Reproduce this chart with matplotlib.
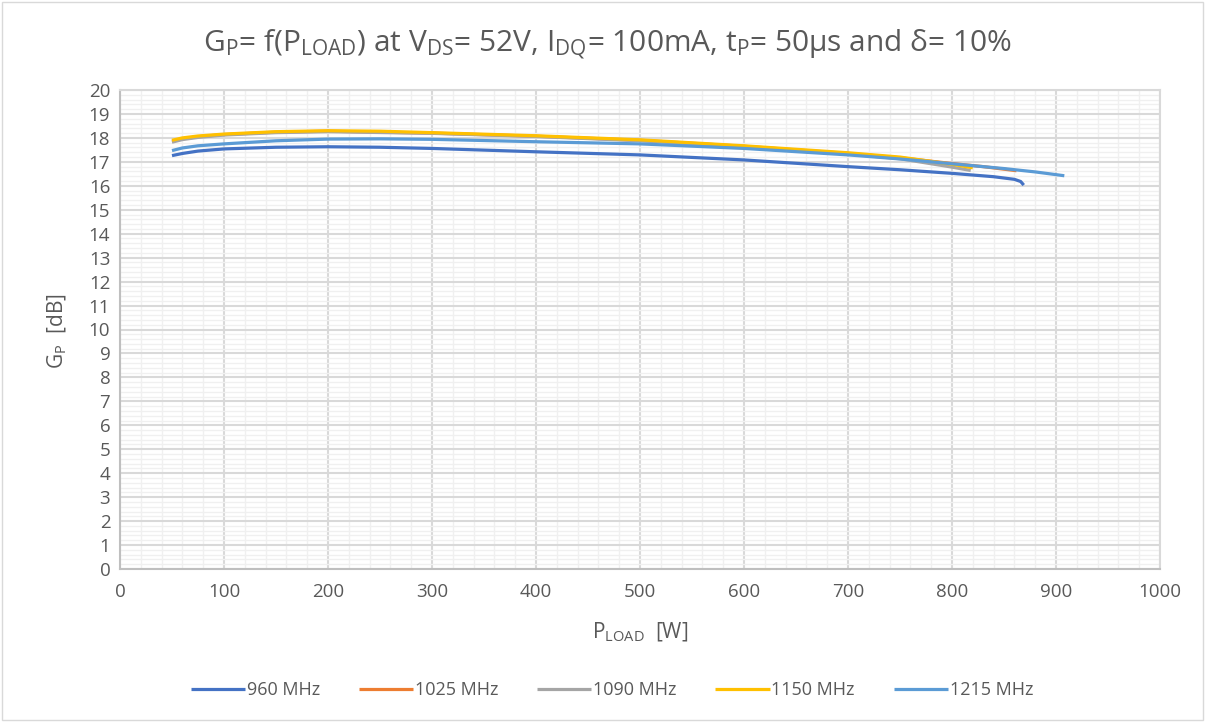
import matplotlib
matplotlib.use("Agg")
import matplotlib.pyplot as plt
from matplotlib.ticker import MultipleLocator
from matplotlib.patches import Rectangle

plt.rcParams['font.family'] = ['Open Sans', 'DejaVu Sans']
plt.rcParams['mathtext.fontset'] = 'custom'
plt.rcParams['mathtext.rm'] = 'Open Sans'
plt.rcParams['mathtext.it'] = 'Open Sans'

# ---- data ----
p_960 = [50, 60, 75, 100, 150, 200, 250, 300, 400, 500, 600, 700, 750, 800, 840, 860, 866, 869]
g_960 = [17.26, 17.35, 17.45, 17.54, 17.61, 17.63, 17.61, 17.56, 17.42, 17.29, 17.08, 16.80, 16.67, 16.52, 16.38, 16.27, 16.18, 16.03]

p_1025 = [50, 60, 75, 100, 150, 200, 300, 400, 500, 600, 700, 750, 800, 830, 862]
g_1025 = [17.86, 17.96, 18.05, 18.14, 18.24, 18.28, 18.20, 18.07, 17.90, 17.65, 17.35, 17.17, 16.93, 16.80, 16.63]

p_1090 = [50, 60, 75, 100, 150, 200, 300, 400, 500, 600, 700, 750, 800, 818]
g_1090 = [17.82, 17.93, 18.02, 18.12, 18.22, 18.26, 18.19, 18.06, 17.88, 17.63, 17.33, 17.13, 16.78, 16.64]

p_1150 = [50, 60, 75, 100, 150, 200, 250, 300, 400, 500, 600, 700, 750, 800, 820]
g_1150 = [17.90, 18.00, 18.08, 18.16, 18.26, 18.30, 18.28, 18.22, 18.09, 17.92, 17.67, 17.38, 17.20, 16.90, 16.75]

p_1215 = [50, 60, 75, 100, 150, 200, 250, 300, 400, 500, 600, 700, 750, 800, 850, 880, 908]
g_1215 = [17.47, 17.58, 17.67, 17.75, 17.88, 17.95, 17.96, 17.94, 17.84, 17.75, 17.56, 17.29, 17.12, 16.92, 16.72, 16.58, 16.42]

series_labels = ['960 MHz', '1025 MHz', '1090 MHz', '1150 MHz', '1215 MHz']
series_colors = ['#4472C4', '#ED7D31', '#A5A5A5', '#FFC000', '#5B9BD5']
series_p = [p_960, p_1025, p_1090, p_1150, p_1215]
series_g = [g_960, g_1025, g_1090, g_1150, g_1215]

x_ticks = list(range(0, 1001, 100))
y_ticks = list(range(0, 21, 1))

fig = plt.figure(figsize=(12.07, 7.22), dpi=100)
fig.patches.append(Rectangle((0.002, 0.003), 0.995, 0.994, transform=fig.transFigure,
                             fill=False, edgecolor='#D9D9D9', linewidth=1.0))
ax = fig.add_axes([120/1207, 1-569/722, (1160-120)/1207, (569-90)/722])

for p, g, c, lab in zip(series_p, series_g, series_colors, series_labels):
    ax.plot(p, g, color=c, linewidth=2.3, label=lab, solid_capstyle='butt', solid_joinstyle='round')

ax.set_xlim(0, 1000)
ax.set_ylim(0, 20)
ax.set_xticks(x_ticks)
ax.set_yticks(y_ticks)
ax.xaxis.set_minor_locator(MultipleLocator(20))
ax.yaxis.set_minor_locator(MultipleLocator(0.2))
ax.grid(which='major', color='#D9D9D9', linewidth=1.5)
ax.grid(which='minor', color='#F0F0F0', linewidth=1.0)
ax.set_axisbelow(True)
ax.tick_params(which='both', length=0, labelsize=13.5, colors='#595959')
ax.tick_params(axis='x', pad=10)
ax.tick_params(axis='y', pad=7)
for s in ['top', 'right']:
    ax.spines[s].set_color('#D9D9D9')
    ax.spines[s].set_linewidth(1.5)
for s in ['left', 'bottom']:
    ax.spines[s].set_color('#BFBFBF')
    ax.spines[s].set_linewidth(1.5)

fig.text(0.503, 1-45/722, r'G$_\mathregular{P}$= f(P$_\mathregular{LOAD}$) at V$_\mathregular{DS}$= 52V, I$_\mathregular{DQ}$= 100mA, t$_\mathregular{P}$= 50µs and δ= 10%',
         ha='center', va='center', fontsize=21.5, color='#595959')
fig.text(640/1207, 1-632/722, r'P$_\mathregular{LOAD}$  [W]', ha='center', va='center',
         fontsize=15, color='#595959')
fig.text(57/1207, 1-331/722, r'G$_\mathregular{P}$  [dB]', ha='center', va='center',
         rotation=90, fontsize=15, color='#595959')

fig.legend(loc='center', bbox_to_anchor=(612/1207, 1-690/722), ncol=5, frameon=False,
           fontsize=13, labelcolor='#595959', handlelength=3.0, handletextpad=0.1,
           columnspacing=2.15)

fig.savefig('out.png', dpi=100)
